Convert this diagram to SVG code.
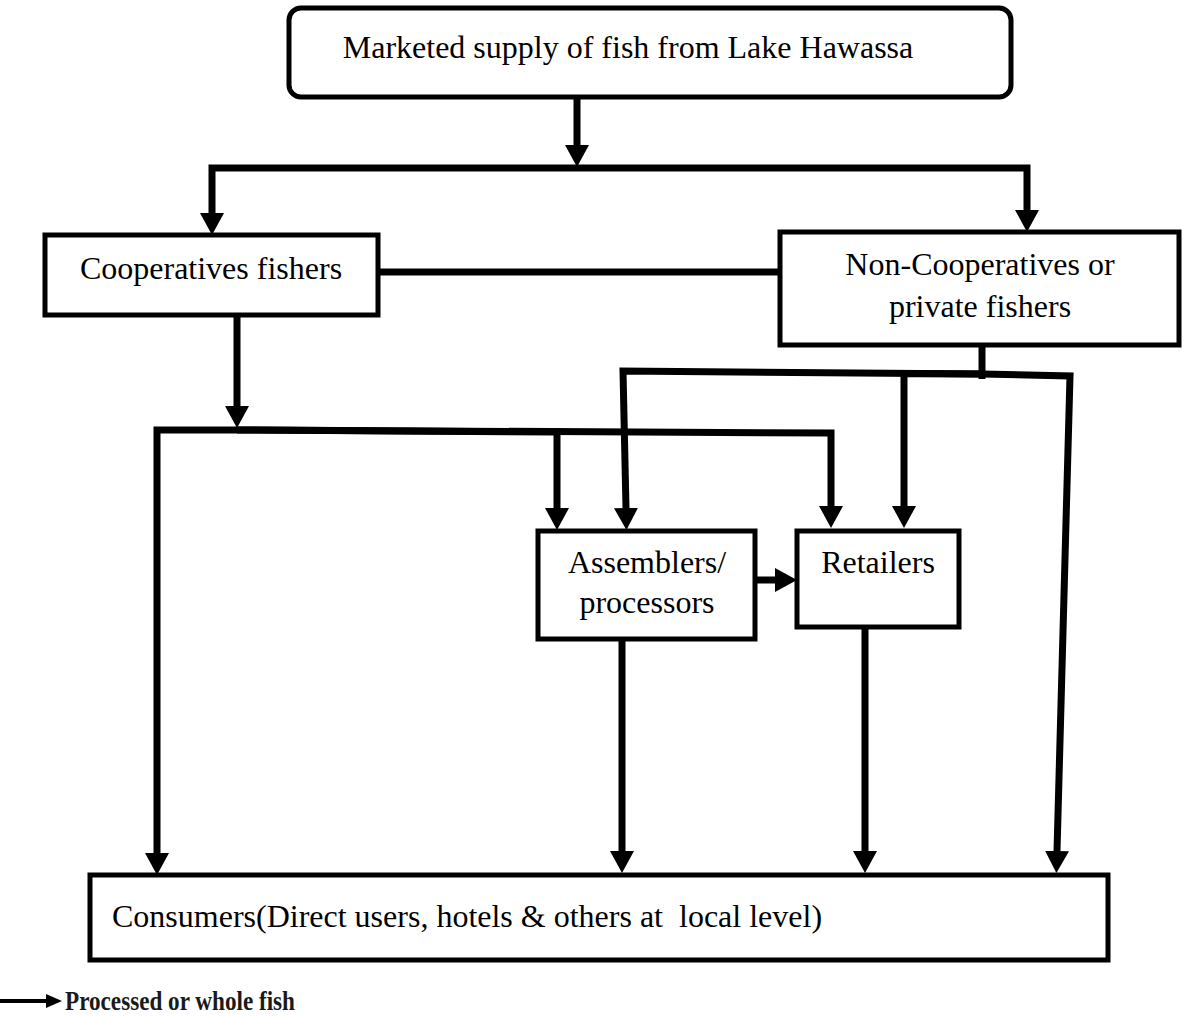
<svg xmlns="http://www.w3.org/2000/svg" width="1183" height="1016" viewBox="0 0 1183 1016">
<style>
.box{fill:#fff;stroke:#000;stroke-width:5}
.t{font-family:"Liberation Serif","Times New Roman",serif;font-size:32px;fill:#000;text-anchor:middle}
.c{fill:none;stroke:#000;stroke-width:7;stroke-linejoin:miter}
</style>
<defs>
<marker id="ah" viewBox="0 0 22 24" refX="0" refY="12" markerWidth="22" markerHeight="24" markerUnits="userSpaceOnUse" orient="auto">
<path d="M0,0 L22,12 L0,24 Z" fill="#000"/>
</marker>
<marker id="ahs" viewBox="0 0 16 14" refX="0" refY="7" markerWidth="16" markerHeight="14" markerUnits="userSpaceOnUse" orient="auto">
<path d="M0,0 L16,7 L0,14 Z" fill="#000"/>
</marker>
</defs>
<rect width="1183" height="1016" fill="#fff"/>
<g id="connectors">
<path class="c" d="M577,97 V145" marker-end="url(#ah)"/>
<path class="c" d="M577,168 H212 V213" marker-end="url(#ah)"/>
<path class="c" d="M577,168 H1027 V210" marker-end="url(#ah)"/>
<path class="c" d="M378,272 H780"/>
<path class="c" d="M237,315 V406" marker-end="url(#ah)"/>
<path class="c" d="M237,430 H157 V853" marker-end="url(#ah)"/>
<path class="c" d="M237,430 L557,432 V508" marker-end="url(#ah)"/>
<path class="c" d="M237,430 L831,433 V506" marker-end="url(#ah)"/>
<path class="c" d="M982,345 V379"/>
<path class="c" d="M982,374 L623,371 L626,508" marker-end="url(#ah)"/>
<path class="c" d="M982,374 L904,373.5 V506" marker-end="url(#ah)"/>
<path class="c" d="M982,374 L1070,376 L1057,851" marker-end="url(#ah)"/>
<path class="c" d="M755,580 H775" marker-end="url(#ah)"/>
<path class="c" d="M622,639 V851" marker-end="url(#ah)"/>
<path class="c" d="M865,627 V851" marker-end="url(#ah)"/>
</g>
<g id="n-top">
<rect class="box" x="289" y="8" width="722" height="89" rx="12"/>
<text class="t" x="628" y="58">Marketed supply of fish from Lake Hawassa</text>
</g>
<g id="n-coop">
<rect class="box" x="45" y="235" width="333" height="80"/>
<text class="t" x="211" y="279">Cooperatives fishers</text>
</g>
<g id="n-noncoop">
<rect class="box" x="780" y="232" width="399" height="113"/>
<text class="t" x="980" y="275">Non-Cooperatives or</text>
<text class="t" x="980" y="317">private fishers</text>
</g>
<g id="n-assemblers">
<rect class="box" x="538" y="531" width="217" height="108"/>
<text class="t" x="647" y="573">Assemblers/</text>
<text class="t" x="647" y="613">processors</text>
</g>
<g id="n-retailers">
<rect class="box" x="797" y="531" width="162" height="96"/>
<text class="t" x="878" y="573">Retailers</text>
</g>
<g id="n-consumers">
<rect class="box" x="90" y="875" width="1018" height="85"/>
<text class="t" x="112" y="927" style="text-anchor:start" xml:space="preserve">Consumers(Direct users, hotels &amp; others at  local level)</text>
</g>
<g id="legend">
<path d="M0,1001 H46" stroke="#000" stroke-width="4" fill="none" marker-end="url(#ahs)"/>
<text x="65" y="1010" font-family="'Liberation Serif', serif" font-weight="bold" font-size="28" fill="#1a1a1a" textLength="230" lengthAdjust="spacingAndGlyphs">Processed or whole fish</text>
</g>
</svg>
